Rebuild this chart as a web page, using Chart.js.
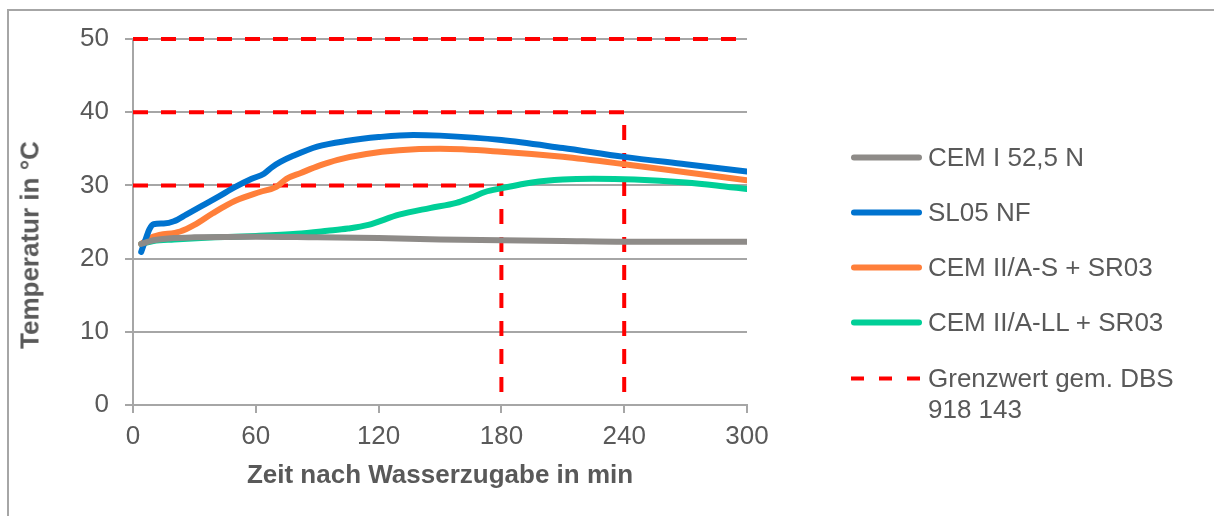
<!DOCTYPE html>
<html lang="de">
<head>
<meta charset="UTF-8">
<title>Temperaturverlauf</title>
<style>
  body {
    margin: 0;
    width: 1214px;
    height: 516px;
    overflow: hidden;
    background: #fff;
    font-family: 'Liberation Sans', Arial, sans-serif;
    color: #595959;
  }
  .frame {
    position: absolute;
    left: 7px;
    top: 9px;
    right: -10px;
    bottom: -10px;
    border-left: 2px solid #a6a6a6;
    border-top: 2px solid #a6a6a6;
  }
  #chart { position: absolute; left: 0; top: 0; }
  .ytitle {
    position: absolute;
    left: 30px;
    top: 245px;
    transform: translate(-50%, -50%) rotate(-90deg);
    font-weight: bold;
    font-size: 26px;
    white-space: nowrap;
  }
  .item {
    position: absolute;
    left: 850px;
    display: flex;
    align-items: flex-start;
    font-size: 26px;
    line-height: 31px;
    white-space: nowrap;
  }
  .item svg { flex: none; }
</style>
</head>
<body>
<div class="frame"></div>
<canvas id="chart" width="1214" height="516"></canvas>
<div class="ytitle">Temperatur in °C</div>
<div id="legend"></div>

<script src="https://cdn.jsdelivr.net/npm/chart.js"></script>
<script>
  // Werte (Zeit in min, Temperatur in °C)
  const xTicks = [0, 60, 120, 180, 240, 300];
  const yTicks = [0, 10, 20, 30, 40, 50];

  const cemITime = [4, 10, 20, 30, 60, 90, 120, 150, 180, 210, 240, 270, 300];
  const cemITemp = [22.0, 22.5, 22.8, 22.9, 23.0, 22.9, 22.8, 22.6, 22.5, 22.4, 22.3, 22.3, 22.3];

  const sl05Time = [4, 6, 8, 10, 15, 20, 26, 35, 42, 50, 58, 64, 68, 72, 78, 90, 105, 120, 137, 150, 180, 210, 240, 270, 300];
  const sl05Temp = [20.9, 22.5, 24.0, 24.7, 24.8, 25.1, 26.0, 27.4, 28.5, 29.8, 30.9, 31.6, 32.5, 33.2, 34.0, 35.3, 36.1, 36.6, 36.9, 36.8, 36.2, 35.1, 33.9, 32.9, 31.9];

  const cemSTime = [4, 10, 23, 30, 39, 50, 62, 70, 75, 82, 91, 100, 114, 130, 150, 180, 210, 240, 270, 300];
  const cemSTemp = [22.0, 23.0, 23.7, 24.6, 26.2, 27.9, 29.1, 29.8, 30.9, 31.7, 32.7, 33.5, 34.3, 34.8, 35.0, 34.6, 33.9, 32.9, 31.8, 30.7];

  const cemLLTime = [4, 10, 20, 40, 60, 80, 95, 105, 115, 130, 145, 158, 165, 172, 180, 195, 210, 225, 245, 270, 285, 300];
  const cemLLTemp = [22.0, 22.4, 22.6, 22.9, 23.1, 23.4, 23.8, 24.1, 24.6, 26.0, 26.9, 27.6, 28.3, 29.1, 29.6, 30.4, 30.8, 30.9, 30.8, 30.4, 30.0, 29.5];

  // Grenzwertlinien, null trennt die Abschnitte
  const limitTime = [0, 300, 300, 0, 240, 240, 240, 0, 180, 180];
  const limitTemp = [50, 50, null, 40, 40, 0, null, 30, 30, 0];

  const toPoints = (xs, ys) => xs.map((x, i) => ({ x: x, y: ys[i] }));
  const font = "'Liberation Sans', Arial, sans-serif";
  const gridColor = '#a6a6a6';

  const curve = (label, xs, ys, color) => ({
    label: label,
    data: toPoints(xs, ys),
    borderColor: color,
    backgroundColor: color,
    borderWidth: 6,
    pointRadius: 0,
    cubicInterpolationMode: 'monotone',
    borderCapStyle: 'round',
    borderJoinStyle: 'round'
  });

  const datasets = [
    curve('CEM I 52,5 N', cemITime, cemITemp, '#8e8b88'),
    curve('SL05 NF', sl05Time, sl05Temp, '#0073cf'),
    curve('CEM II/A-S + SR03', cemSTime, cemSTemp, '#ff7f3a'),
    curve('CEM II/A-LL + SR03', cemLLTime, cemLLTemp, '#00cf97'),
    {
      label: 'Grenzwert gem. DBS\n918 143',
      data: toPoints(limitTime, limitTemp),
      borderColor: '#ff0000',
      backgroundColor: '#ff0000',
      borderWidth: 4,
      borderDash: [15, 13],
      pointRadius: 0,
      tension: 0,
      spanGaps: false,
      clip: 8
    }
  ];

  new Chart(document.getElementById('chart'), {
    type: 'line',
    data: { datasets: datasets },
    options: {
      responsive: false,
      animation: false,
      layout: { padding: { top: 39, right: 467, left: 0, bottom: 0 } },
      plugins: { legend: { display: false }, tooltip: { enabled: false } },
      scales: {
        x: {
          type: 'linear',
          min: xTicks[0],
          max: xTicks[xTicks.length - 1],
          afterBuildTicks: s => { s.ticks = xTicks.map(v => ({ value: v })); },
          afterFit: s => { s.height = 111; },
          grid: { drawOnChartArea: false, color: gridColor, lineWidth: 2, tickLength: 8 },
          border: { color: gridColor, width: 2 },
          ticks: { color: '#595959', padding: 8, maxRotation: 0, font: { size: 26, family: font } },
          title: {
            display: true,
            text: 'Zeit nach Wasserzugabe in min',
            color: '#595959',
            padding: { top: 0, bottom: 25 },
            font: { size: 26, weight: 'bold', family: font }
          }
        },
        y: {
          min: yTicks[0],
          max: yTicks[yTicks.length - 1],
          afterBuildTicks: s => { s.ticks = yTicks.map(v => ({ value: v })); },
          afterFit: s => { s.width = 133; },
          grid: { color: gridColor, lineWidth: 2, tickLength: 8 },
          border: { color: gridColor, width: 2 },
          ticks: { color: '#595959', padding: 16, font: { size: 26, family: font } }
        }
      }
    }
  });

  // Legende rechts
  const legend = document.getElementById('legend');
  datasets.forEach((ds, i) => {
    const item = document.createElement('div');
    item.className = 'item';
    item.style.top = (157 + i * 55.3 - 15.5) + 'px';
    const dashed = ds.borderDash ? ' stroke-dasharray="13 15"' : '';
    const cap = ds.borderDash ? 'butt' : 'round';
    const x1 = ds.borderDash ? 1 : 4;
    const x2 = ds.borderDash ? 72 : 69;
    item.innerHTML =
      '<svg width="78" height="31"><line x1="' + x1 + '" y1="15.5" x2="' + x2 + '" y2="15.5" stroke="' +
      ds.borderColor + '" stroke-width="' + ds.borderWidth + '" stroke-linecap="' + cap + '"' + dashed + '/></svg>' +
      '<span>' + ds.label.replace('\n', '<br>') + '</span>';
    legend.appendChild(item);
  });
</script>
</body>
</html>
